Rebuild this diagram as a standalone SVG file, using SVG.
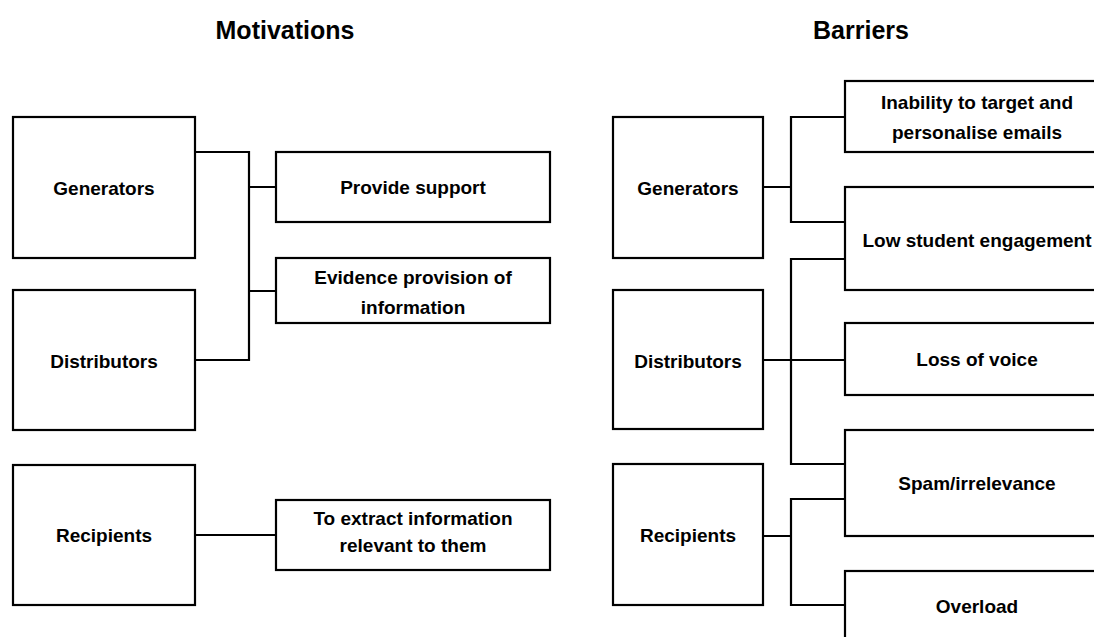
<svg xmlns="http://www.w3.org/2000/svg" width="1094" height="637" viewBox="0 0 1094 637">
<style>
.box{fill:#fff;stroke:#000;stroke-width:2.2}
.ln{fill:none;stroke:#000;stroke-width:2.2}
text{font-family:"Liberation Sans",Arial,sans-serif;font-weight:bold;font-size:19px;fill:#000;text-anchor:middle}
.title{font-size:25px}
</style>
<rect width="1094" height="637" fill="#fff"/>
<text class="title" x="285" y="39">Motivations</text>
<text class="title" x="861" y="39">Barriers</text>
<g id="connectors">
<path class="ln" d="M195 152H249V360H195M249 187H276M249 291H276M195 535H276"/>
<path class="ln" d="M763 187H791M845 117H791V222H845M763 360H845M845 259H791V464H845M763 536H791M845 499H791V605H845"/>
</g>
<g id="m-generators"><rect class="box" x="13" y="117" width="182" height="141"/><text x="104" y="195">Generators</text></g>
<g id="m-distributors"><rect class="box" x="13" y="290" width="182" height="140"/><text x="104" y="368">Distributors</text></g>
<g id="m-recipients"><rect class="box" x="13" y="465" width="182" height="140"/><text x="104" y="542">Recipients</text></g>
<g id="m-support"><rect class="box" x="276" y="152" width="274" height="70"/><text x="413" y="194">Provide support</text></g>
<g id="m-evidence"><rect class="box" x="276" y="258" width="274" height="65"/><text x="413" y="284">Evidence provision of</text><text x="413" y="314">information</text></g>
<g id="m-extract"><rect class="box" x="276" y="500" width="274" height="70"/><text x="413" y="525">To extract information</text><text x="413" y="552">relevant to them</text></g>
<g id="b-generators"><rect class="box" x="613" y="117" width="150" height="141"/><text x="688" y="195">Generators</text></g>
<g id="b-distributors"><rect class="box" x="613" y="290" width="150" height="139"/><text x="688" y="368">Distributors</text></g>
<g id="b-recipients"><rect class="box" x="613" y="464" width="150" height="141"/><text x="688" y="542">Recipients</text></g>
<g id="b-inability"><rect class="box" x="845" y="81" width="264" height="71"/><text x="977" y="109">Inability to target and</text><text x="977" y="139">personalise emails</text></g>
<g id="b-engagement"><rect class="box" x="845" y="187" width="264" height="103"/><text x="977" y="247">Low student engagement</text></g>
<g id="b-voice"><rect class="box" x="845" y="323" width="264" height="72"/><text x="977" y="366">Loss of voice</text></g>
<g id="b-spam"><rect class="box" x="845" y="430" width="264" height="106"/><text x="977" y="490">Spam/irrelevance</text></g>
<g id="b-overload"><rect class="box" x="845" y="571" width="264" height="80"/><text x="977" y="613">Overload</text></g>
</svg>
